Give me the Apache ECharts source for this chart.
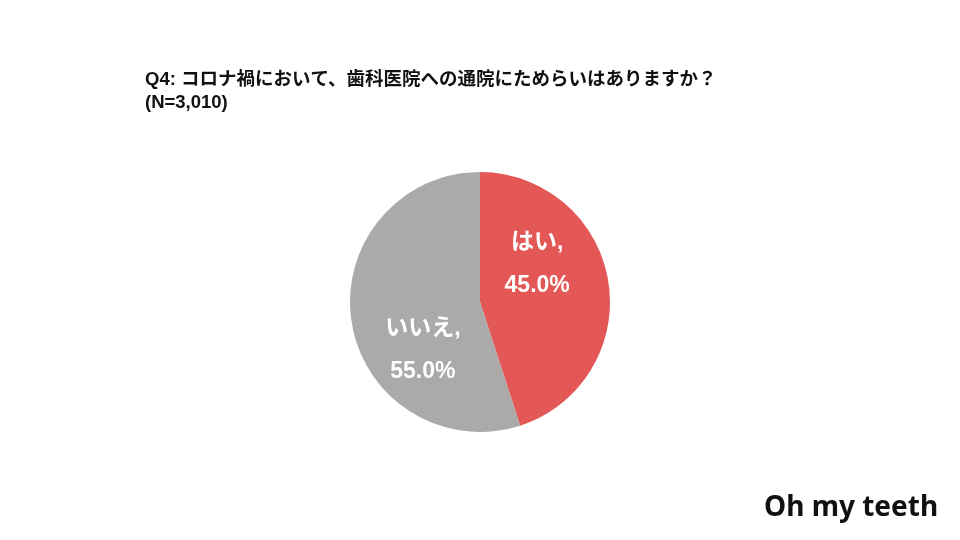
<!DOCTYPE html>
<html>
<head>
<meta charset="utf-8">
<script src="https://cdn.jsdelivr.net/npm/echarts@6/dist/echarts.min.js"></script>
<style>
  html, body { margin: 0; padding: 0; background: #fff; }
  #main { width: 960px; height: 540px; }
</style>
</head>
<body>
<div id="main"></div>
<script>
// データ
var categories = ['はい', 'いいえ'];
var values = [45.0, 55.0];
var colors = ['#E35757', '#ABAAA9'];
var titleText = 'Q4: コロナ禍において、歯科医院への通院にためらいはありますか？\n(N=3,010)';

var chart = echarts.init(document.getElementById('main'));

// ラベル位置の微調整
var labelOffsets = [[-10, -27], [10, 38]];

var pieData = categories.map(function (name, i) {
  return {
    name: name,
    value: values[i],
    itemStyle: { color: colors[i] },
    label: { offset: labelOffsets[i] }
  };
});

var option = {
  backgroundColor: '#ffffff',
  animation: false,
  title: {
    text: titleText,
    left: 145,
    top: 68,
    padding: 0,
    textStyle: {
      fontSize: 18.5,
      fontWeight: 'bold',
      color: '#111',
      lineHeight: 23,
      fontFamily: '"Liberation Sans", "Noto Sans CJK JP", sans-serif'
    }
  },
  series: [{
    type: 'pie',
    center: [480, 302],
    radius: [0, 130],
    startAngle: 90,
    clockwise: true,
    data: pieData,
    itemStyle: { borderWidth: 0 },
    label: {
      show: true,
      position: 'inner',
      formatter: function (p) { return p.name + ',\n' + p.value.toFixed(1) + '%'; },
      color: '#fff',
      fontSize: 23,
      fontWeight: 'bold',
      lineHeight: 43,
      fontFamily: '"Liberation Sans", "Noto Sans CJK JP", sans-serif'
    },
    labelLine: { show: false },
    emphasis: { disabled: true }
  }],
  graphic: [{
    type: 'text',
    left: 764,
    top: 494,
    style: {
      text: 'Oh my teeth',
      font: 'bold 28px "Noto Sans", "Lato", sans-serif',
      fill: '#111'
    }
  }]
};

chart.setOption(option);
</script>
</body>
</html>
